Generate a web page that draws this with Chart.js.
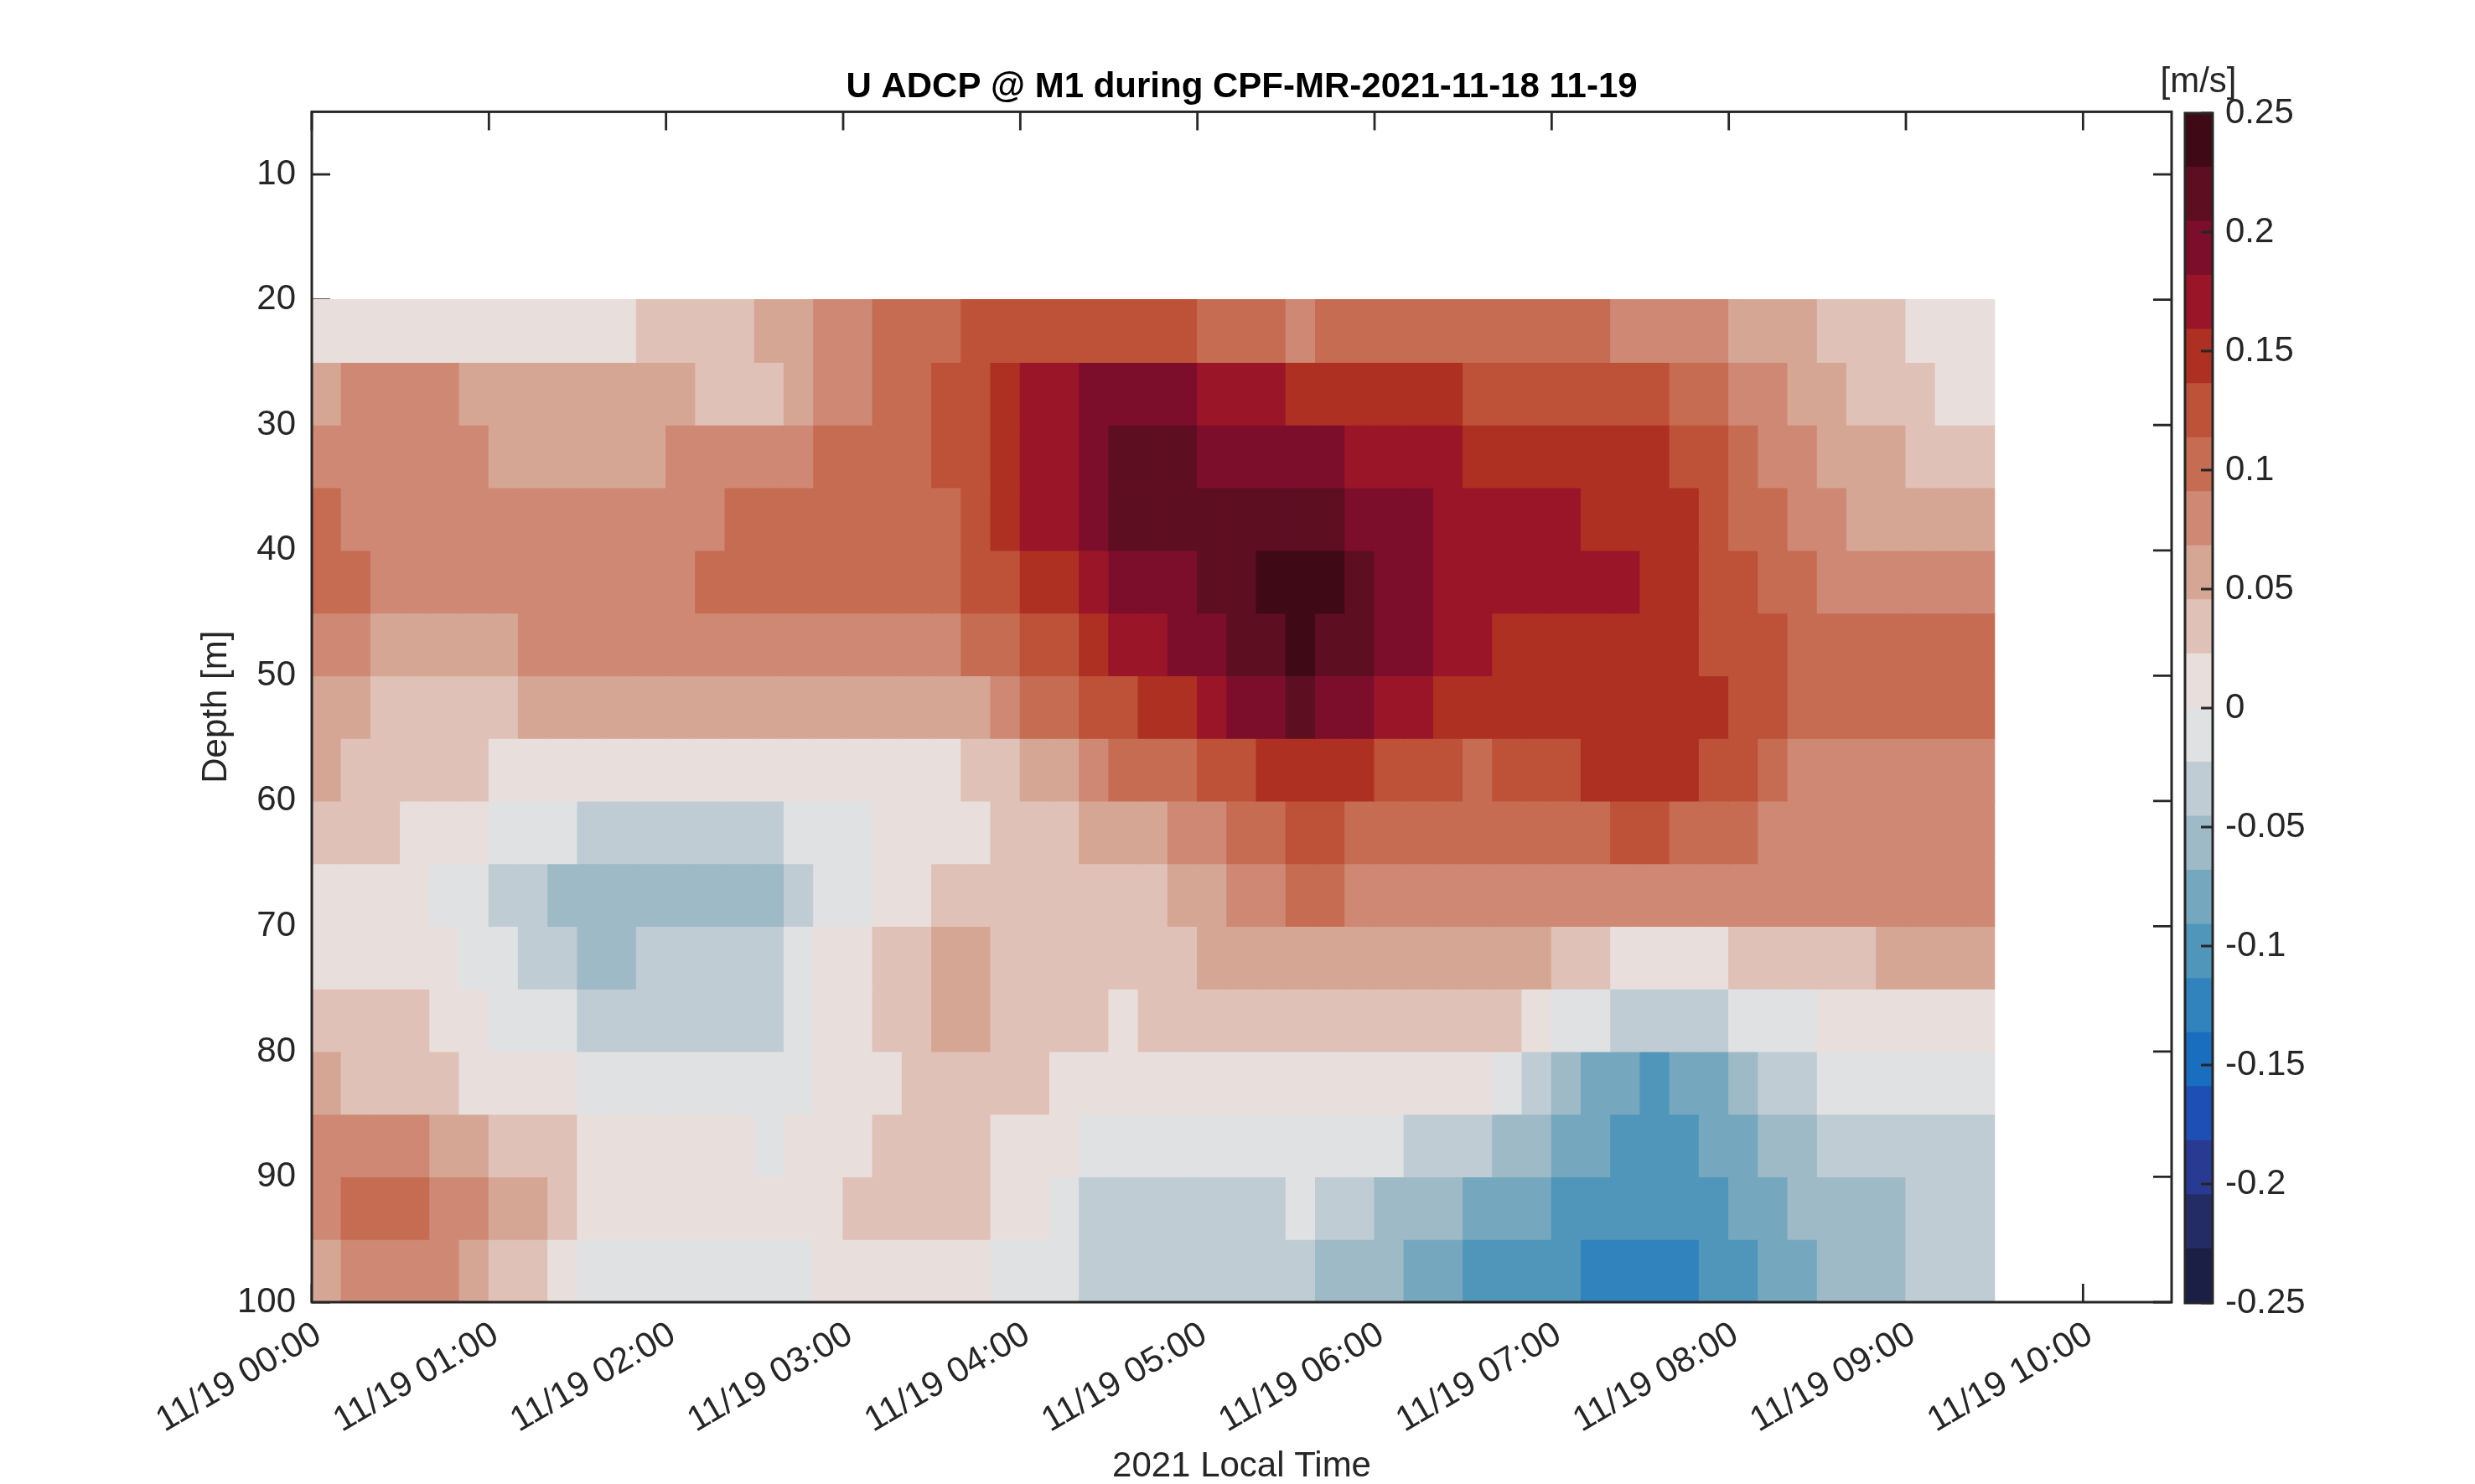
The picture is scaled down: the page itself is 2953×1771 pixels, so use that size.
<!DOCTYPE html>
<html>
<head>
<meta charset="utf-8">
<title>U ADCP @ M1</title>
<script src="https://cdn.jsdelivr.net/npm/chart.js@4.4.1/dist/chart.umd.min.js"></script>
<style>
  html, body { margin: 0; padding: 0; background: #fff; }
  #wrap { position: relative; width: 2953px; height: 1771px; overflow: hidden; }
  #main { position: absolute; left: 0; top: 0; }
  #cbar { position: absolute; left: 2560px; top: 0; }
  #unit { position: absolute; left: 2623px; top: 96px; transform: translate(-50%, -50%);
          font: 42px "Liberation Sans", Arial, sans-serif; color: #262626; white-space: nowrap; }
</style>
</head>
<body>
<div id="wrap">
  <canvas id="main" width="2953" height="1771"></canvas>
  <canvas id="cbar" width="393" height="1771"></canvas>
  <div id="unit">[m/s]</div>
</div>
<script>
// 10-minute ensembles (start times, local), 5 m depth bins
const timeBins = [
  '00:00','00:10','00:20','00:30','00:40','00:50',
  '01:00','01:10','01:20','01:30','01:40','01:50',
  '02:00','02:10','02:20','02:30','02:40','02:50',
  '03:00','03:10','03:20','03:30','03:40','03:50',
  '04:00','04:10','04:20','04:30','04:40','04:50',
  '05:00','05:10','05:20','05:30','05:40','05:50',
  '06:00','06:10','06:20','06:30','06:40','06:50',
  '07:00','07:10','07:20','07:30','07:40','07:50',
  '08:00','08:10','08:20','08:30','08:40','08:50',
  '09:00','09:10','09:20'
];
const binMinutes = 10;
const depthTop = [20, 25, 30, 35, 40, 45, 50, 55, 60, 65, 70, 75, 80, 85, 90, 95];
const binDepth = 5;

// U velocity [m/s], one array per depth bin
const u20 = [
  0.011,0.011,0.011,0.011,0.011,0.011,0.011,0.011,0.011,0.011,0.011,0.034,0.034,0.034,0.034,0.057,0.057,0.080,0.080,
  0.102,0.102,0.102,0.125,0.125,0.125,0.125,0.125,0.125,0.125,0.125,0.102,0.102,0.102,0.080,0.102,0.102,0.102,0.102,
  0.102,0.102,0.102,0.102,0.102,0.102,0.080,0.080,0.080,0.080,0.057,0.057,0.057,0.034,0.034,0.034,0.011,0.011,0.011];
const u25 = [
  0.057,0.080,0.080,0.080,0.080,0.057,0.057,0.057,0.057,0.057,0.057,0.057,0.057,0.034,0.034,0.034,0.057,0.080,0.080,
  0.102,0.102,0.125,0.125,0.148,0.170,0.170,0.193,0.193,0.193,0.193,0.170,0.170,0.170,0.148,0.148,0.148,0.148,0.148,
  0.148,0.125,0.125,0.125,0.125,0.125,0.125,0.125,0.102,0.102,0.080,0.080,0.057,0.057,0.034,0.034,0.034,0.011,0.011];
const u30 = [
  0.080,0.080,0.080,0.080,0.080,0.080,0.057,0.057,0.057,0.057,0.057,0.057,0.080,0.080,0.080,0.080,0.080,0.102,0.102,
  0.102,0.102,0.125,0.125,0.148,0.170,0.170,0.193,0.216,0.216,0.216,0.193,0.193,0.193,0.193,0.193,0.170,0.170,0.170,
  0.170,0.148,0.148,0.148,0.148,0.148,0.148,0.148,0.125,0.125,0.102,0.080,0.080,0.057,0.057,0.057,0.034,0.034,0.034];
const u35 = [
  0.102,0.080,0.080,0.080,0.080,0.080,0.080,0.080,0.080,0.080,0.080,0.080,0.080,0.080,0.102,0.102,0.102,0.102,0.102,
  0.102,0.102,0.102,0.125,0.148,0.170,0.170,0.193,0.216,0.216,0.216,0.216,0.216,0.216,0.216,0.216,0.193,0.193,0.193,
  0.170,0.170,0.170,0.170,0.170,0.148,0.148,0.148,0.148,0.125,0.102,0.102,0.080,0.080,0.057,0.057,0.057,0.057,0.057];
const u40 = [
  0.102,0.102,0.080,0.080,0.080,0.080,0.080,0.080,0.080,0.080,0.080,0.080,0.080,0.102,0.102,0.102,0.102,0.102,0.102,
  0.102,0.102,0.102,0.125,0.125,0.148,0.148,0.170,0.193,0.193,0.193,0.216,0.216,0.239,0.239,0.239,0.216,0.193,0.193,
  0.170,0.170,0.170,0.170,0.170,0.170,0.170,0.148,0.148,0.125,0.125,0.102,0.102,0.080,0.080,0.080,0.080,0.080,0.080];
const u45 = [
  0.080,0.080,0.057,0.057,0.057,0.057,0.057,0.080,0.080,0.080,0.080,0.080,0.080,0.080,0.080,0.080,0.080,0.080,0.080,
  0.080,0.080,0.080,0.102,0.102,0.125,0.125,0.148,0.170,0.170,0.193,0.193,0.216,0.216,0.239,0.216,0.216,0.193,0.193,
  0.170,0.170,0.148,0.148,0.148,0.148,0.148,0.148,0.148,0.125,0.125,0.125,0.102,0.102,0.102,0.102,0.102,0.102,0.102];
const u50 = [
  0.057,0.057,0.034,0.034,0.034,0.034,0.034,0.057,0.057,0.057,0.057,0.057,0.057,0.057,0.057,0.057,0.057,0.057,0.057,
  0.057,0.057,0.057,0.057,0.080,0.102,0.102,0.125,0.125,0.148,0.148,0.170,0.193,0.193,0.216,0.193,0.193,0.170,0.170,
  0.148,0.148,0.148,0.148,0.148,0.148,0.148,0.148,0.148,0.148,0.125,0.125,0.102,0.102,0.102,0.102,0.102,0.102,0.102];
const u55 = [
  0.057,0.034,0.034,0.034,0.034,0.034,0.011,0.011,0.011,0.011,0.011,0.011,0.011,0.011,0.011,0.011,0.011,0.011,0.011,
  0.011,0.011,0.011,0.034,0.034,0.057,0.057,0.080,0.102,0.102,0.102,0.125,0.125,0.148,0.148,0.148,0.148,0.125,0.125,
  0.125,0.102,0.125,0.125,0.125,0.148,0.148,0.148,0.148,0.125,0.125,0.102,0.080,0.080,0.080,0.080,0.080,0.080,0.080];
const u60 = [
  0.034,0.034,0.034,0.011,0.011,0.011,-0.011,-0.011,-0.011,-0.034,-0.034,-0.034,-0.034,-0.034,-0.034,-0.034,-0.011,-0.011,-0.011,
  0.011,0.011,0.011,0.011,0.034,0.034,0.034,0.057,0.057,0.057,0.080,0.080,0.102,0.102,0.125,0.125,0.102,0.102,0.102,
  0.102,0.102,0.102,0.102,0.102,0.102,0.125,0.125,0.102,0.102,0.102,0.080,0.080,0.080,0.080,0.080,0.080,0.080,0.080];
const u65 = [
  0.011,0.011,0.011,0.011,-0.011,-0.011,-0.034,-0.034,-0.057,-0.057,-0.057,-0.057,-0.057,-0.057,-0.057,-0.057,-0.034,-0.011,-0.011,
  0.011,0.011,0.034,0.034,0.034,0.034,0.034,0.034,0.034,0.034,0.057,0.057,0.080,0.080,0.102,0.102,0.080,0.080,0.080,
  0.080,0.080,0.080,0.080,0.080,0.080,0.080,0.080,0.080,0.080,0.080,0.080,0.080,0.080,0.080,0.080,0.080,0.080,0.080];
const u70 = [
  0.011,0.011,0.011,0.011,0.011,-0.011,-0.011,-0.034,-0.034,-0.057,-0.057,-0.034,-0.034,-0.034,-0.034,-0.034,-0.011,0.011,0.011,
  0.034,0.034,0.057,0.057,0.034,0.034,0.034,0.034,0.034,0.034,0.034,0.057,0.057,0.057,0.057,0.057,0.057,0.057,0.057,
  0.057,0.057,0.057,0.057,0.034,0.034,0.011,0.011,0.011,0.011,0.034,0.034,0.034,0.034,0.034,0.057,0.057,0.057,0.057];
const u75 = [
  0.034,0.034,0.034,0.034,0.011,0.011,-0.011,-0.011,-0.011,-0.034,-0.034,-0.034,-0.034,-0.034,-0.034,-0.034,-0.011,0.011,0.011,
  0.034,0.034,0.057,0.057,0.034,0.034,0.034,0.034,0.011,0.034,0.034,0.034,0.034,0.034,0.034,0.034,0.034,0.034,0.034,
  0.034,0.034,0.034,0.011,-0.011,-0.011,-0.034,-0.034,-0.034,-0.034,-0.011,-0.011,-0.011,0.011,0.011,0.011,0.011,0.011,0.011];
const u80 = [
  0.057,0.034,0.034,0.034,0.034,0.011,0.011,0.011,0.011,-0.011,-0.011,-0.011,-0.011,-0.011,-0.011,-0.011,-0.011,0.011,0.011,
  0.011,0.034,0.034,0.034,0.034,0.034,0.011,0.011,0.011,0.011,0.011,0.011,0.011,0.011,0.011,0.011,0.011,0.011,0.011,
  0.011,0.011,-0.011,-0.034,-0.057,-0.080,-0.080,-0.102,-0.080,-0.080,-0.057,-0.034,-0.034,-0.011,-0.011,-0.011,-0.011,-0.011,-0.011];
const u85 = [
  0.080,0.080,0.080,0.080,0.057,0.057,0.034,0.034,0.034,0.011,0.011,0.011,0.011,0.011,0.011,-0.011,0.011,0.011,0.011,
  0.034,0.034,0.034,0.034,0.011,0.011,0.011,-0.011,-0.011,-0.011,-0.011,-0.011,-0.011,-0.011,-0.011,-0.011,-0.011,-0.011,-0.034,
  -0.034,-0.034,-0.057,-0.057,-0.080,-0.080,-0.102,-0.102,-0.102,-0.080,-0.080,-0.057,-0.057,-0.034,-0.034,-0.034,-0.034,-0.034,-0.034];
const u90 = [
  0.080,0.102,0.102,0.102,0.080,0.080,0.057,0.057,0.034,0.011,0.011,0.011,0.011,0.011,0.011,0.011,0.011,0.011,0.034,
  0.034,0.034,0.034,0.034,0.011,0.011,-0.011,-0.034,-0.034,-0.034,-0.034,-0.034,-0.034,-0.034,-0.011,-0.034,-0.034,-0.057,-0.057,
  -0.057,-0.080,-0.080,-0.080,-0.102,-0.102,-0.102,-0.102,-0.102,-0.102,-0.080,-0.080,-0.057,-0.057,-0.057,-0.057,-0.034,-0.034,-0.034];
const u95 = [
  0.057,0.080,0.080,0.080,0.080,0.057,0.034,0.034,0.011,-0.011,-0.011,-0.011,-0.011,-0.011,-0.011,-0.011,-0.011,0.011,0.011,
  0.011,0.011,0.011,0.011,-0.011,-0.011,-0.011,-0.034,-0.034,-0.034,-0.034,-0.034,-0.034,-0.034,-0.034,-0.057,-0.057,-0.057,-0.080,
  -0.080,-0.102,-0.102,-0.102,-0.102,-0.125,-0.125,-0.125,-0.125,-0.102,-0.102,-0.080,-0.080,-0.057,-0.057,-0.057,-0.034,-0.034,-0.034];
const uRows = [u20, u25, u30, u35, u40, u45, u50, u55, u60, u65, u70, u75, u80, u85, u90, u95];

const hourTicks = [0, 1, 2, 3, 4, 5, 6, 7, 8, 9, 10];
const depthTicks = [10, 20, 30, 40, 50, 60, 70, 80, 90, 100];
const colorTicks = [-0.25, -0.2, -0.15, -0.1, -0.05, 0, 0.05, 0.1, 0.15, 0.2, 0.25];
const cLim = [-0.25, 0.25];
// 22 discrete levels, low -> high
const levelColors = [
  '#1b1e45', '#242c66', '#283a92', '#1e4fb5', '#1a6ec0', '#3083bd', '#5096bb', '#75a8be',
  '#9dbac6', '#c0ccd3', '#e0e1e2', '#e8dfdc', '#e0c1b7', '#d6a695', '#cf8874', '#c66c53',
  '#bd5238', '#ae3022', '#9b1528', '#7d0e2b', '#5e0e21', '#3f0a15'
];

const FONT = '"Liberation Sans", Arial, Helvetica, sans-serif';
const INK = '#262626';
Chart.defaults.font.family = FONT;
Chart.defaults.color = INK;

const step = (cLim[1] - cLim[0]) / levelColors.length;
function colorFor(v) {
  let i = Math.floor((v - cLim[0]) / step);
  i = Math.max(0, Math.min(levelColors.length - 1, i));
  return levelColors[i];
}
function toHours(t) {
  const [h, m] = t.split(':').map(Number);
  return h + m / 60;
}

const datasets = depthTop.map((d, r) => ({
  label: d + '-' + (d + binDepth) + ' m',
  data: uRows[r].map((v, c) => ({ x: toHours(timeBins[c]) + binMinutes / 120, y: [d, d + binDepth] })),
  backgroundColor: uRows[r].map(colorFor),
  borderWidth: 0,
  inflateAmount: 0.6,
  grouped: false,
  barPercentage: 1,
  categoryPercentage: 1
}));

const tickLen = 22;
const axesBox = {
  id: 'axesBox',
  beforeDatasetsDraw(chart) {
    const { ctx, chartArea: a, scales: { x, y } } = chart;
    ctx.save();
    ctx.strokeStyle = INK;
    ctx.lineWidth = 2.8;
    ctx.beginPath();
    hourTicks.forEach(h => {
      const px = x.getPixelForValue(h);
      ctx.moveTo(px, a.top); ctx.lineTo(px, a.top + tickLen);
      ctx.moveTo(px, a.bottom); ctx.lineTo(px, a.bottom - tickLen);
    });
    depthTicks.forEach(d => {
      const py = y.getPixelForValue(d);
      ctx.moveTo(a.left, py); ctx.lineTo(a.left + tickLen, py);
      ctx.moveTo(a.right, py); ctx.lineTo(a.right - tickLen, py);
    });
    ctx.stroke();
    ctx.restore();
  },
  afterDatasetsDraw(chart) {
    const { ctx, chartArea: a } = chart;
    ctx.save();
    ctx.strokeStyle = INK;
    ctx.lineWidth = 3;
    ctx.strokeRect(a.left, a.top, a.right - a.left, a.bottom - a.top);
    ctx.restore();
  }
};

new Chart(document.getElementById('main'), {
  type: 'bar',
  data: { datasets },
  options: {
    responsive: false,
    devicePixelRatio: 1,
    animation: false,
    events: [],
    layout: { padding: { left: 0, right: 362, top: 0, bottom: 0 } },
    plugins: {
      legend: { display: false },
      tooltip: { enabled: false },
      title: {
        display: true,
        fullSize: false,
        text: 'U ADCP @ M1 during CPF-MR-2021-11-18 11-19',
        color: '#000',
        font: { size: 42, weight: 'bold', lineHeight: 1.2 },
        padding: { top: 79, bottom: 4 }
      }
    },
    scales: {
      x: {
        type: 'linear',
        min: 0,
        max: 10.5,
        offset: false,
        grid: { display: false },
        border: { display: false },
        afterBuildTicks: s => { s.ticks = hourTicks.map(v => ({ value: v })); },
        afterFit: s => { s.height = 217; },
        ticks: {
          autoSkip: false,
          minRotation: 30,
          maxRotation: 30,
          padding: 6,
          labelOffset: 8,
          font: { size: 42 },
          callback: v => '11/19 ' + String(v).padStart(2, '0') + ':00'
        },
        title: {
          display: true,
          text: '2021 Local Time',
          font: { size: 42, lineHeight: 1 },
          padding: { top: 0, bottom: 0 }
        }
      },
      y: {
        type: 'linear',
        reverse: true,
        min: 5,
        max: 100,
        grid: { display: false },
        border: { display: false },
        afterBuildTicks: s => { s.ticks = depthTicks.map(v => ({ value: v })); },
        afterFit: s => { s.width = 372; },
        ticks: { autoSkip: false, padding: 11, font: { size: 42 } },
        title: {
          display: true,
          text: 'Depth [m]',
          font: { size: 42, lineHeight: 1 },
          padding: { top: 237, bottom: 0 }
        }
      }
    }
  },
  plugins: [axesBox]
});

// colour bar
const cbarSets = levelColors.map((c, i) => ({
  data: [[cLim[0] + i * step, cLim[0] + (i + 1) * step]],
  backgroundColor: c,
  borderWidth: 0,
  inflateAmount: 0.6,
  grouped: false,
  barPercentage: 1,
  categoryPercentage: 1
}));

const cbarFrame = {
  id: 'cbarFrame',
  afterDatasetsDraw(chart) {
    const { ctx, chartArea: a, scales: { y } } = chart;
    ctx.save();
    ctx.strokeStyle = INK;
    ctx.lineWidth = 2.8;
    ctx.beginPath();
    colorTicks.forEach(v => {
      const py = y.getPixelForValue(v);
      ctx.moveTo(a.right, py); ctx.lineTo(a.right - 14, py);
    });
    ctx.stroke();
    ctx.lineWidth = 3;
    ctx.strokeRect(a.left, a.top, a.right - a.left, a.bottom - a.top);
    ctx.restore();
  }
};

new Chart(document.getElementById('cbar'), {
  type: 'bar',
  data: { labels: [''], datasets: cbarSets },
  options: {
    responsive: false,
    devicePixelRatio: 1,
    animation: false,
    events: [],
    layout: { padding: { left: 47, right: 0, top: 135, bottom: 216 } },
    plugins: { legend: { display: false }, tooltip: { enabled: false } },
    scales: {
      x: { display: false },
      y: {
        position: 'right',
        min: cLim[0],
        max: cLim[1],
        grid: { display: false },
        border: { display: false },
        afterBuildTicks: s => { s.ticks = colorTicks.map(v => ({ value: v })); },
        afterFit: s => { s.width = 313; },
        ticks: {
          autoSkip: false,
          padding: 7,
          font: { size: 42 },
          callback: v => String(+Number(v).toFixed(2))
        }
      }
    }
  },
  plugins: [cbarFrame]
});
</script>
</body>
</html>
